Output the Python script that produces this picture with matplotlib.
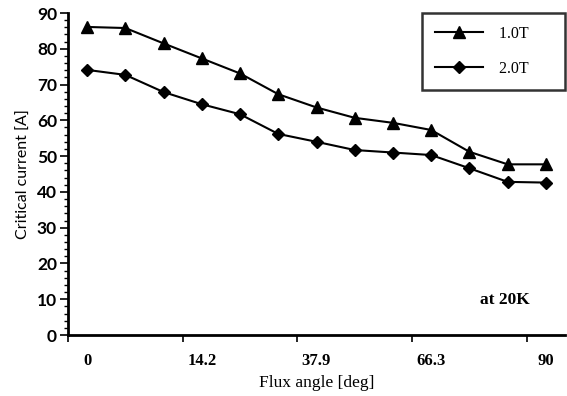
import matplotlib
matplotlib.use('Agg')
import matplotlib.pyplot as plt
from matplotlib.ticker import MultipleLocator, FixedLocator

# flux angle categories (13 points, only every 3rd labelled)
angle_labels = ['0', '14.2', '37.9', '66.3', '90']
n_points = 13

ic_10T = [86.1, 85.8, 81.5, 77.3, 73.1, 67.3, 63.6, 60.7, 59.3, 57.3, 51.2, 47.7, 47.7]
ic_20T = [74.1, 72.7, 67.9, 64.5, 61.7, 56.2, 54.0, 51.7, 51.0, 50.3, 46.6, 42.8, 42.6]

serif = 'Liberation Serif'
sans = 'Lato'

fig = plt.figure(figsize=(5.67, 3.96), dpi=100)
ax = fig.add_axes([68/567, 1 - 335/396, (565 - 68)/567, (335 - 13)/396])

x = list(range(n_points))
ax.plot(x, ic_10T, color='black', lw=1.5, marker='^', ms=9, label='1.0T      ')
ax.plot(x, ic_20T, color='black', lw=1.5, marker='D', ms=6.5, label='2.0T      ')

ax.set_xlim(-0.5, n_points - 0.5)
ax.set_ylim(0, 90)

# tick marks sit between categories, labels on every third category
ax.xaxis.set_major_locator(FixedLocator([-0.5, 2.5, 5.5, 8.5, 11.5]))
ax.xaxis.set_minor_locator(FixedLocator([0, 3, 6, 9, 12]))
ax.set_xticklabels([''] * 5)
ax.set_xticklabels(angle_labels, minor=True, fontfamily=serif, fontsize=12,
                   fontweight='bold')
ax.tick_params(axis='x', which='major', direction='out', length=5, width=1.2)
ax.tick_params(axis='x', which='minor', length=0, pad=13)

ax.yaxis.set_major_locator(MultipleLocator(10))
ax.yaxis.set_minor_locator(MultipleLocator(2))
ax.tick_params(axis='y', which='major', direction='out', length=6, width=1.2, pad=2)
ax.tick_params(axis='y', which='minor', direction='out', length=3, width=1)
for t in ax.get_yticklabels():
    t.set_fontfamily(sans)
    t.set_fontsize(12.5)
    t.set_fontweight('bold')

ax.spines['right'].set_visible(False)
ax.spines['top'].set_visible(False)
ax.spines['left'].set_linewidth(2)
ax.spines['bottom'].set_linewidth(2)

ax.set_xlabel('Flux angle [deg]', fontfamily=serif, fontsize=12.5, labelpad=4)
ax.set_ylabel('Critical current [A]', fontfamily=sans, fontsize=11.5, labelpad=4)

ax.text(0.88, 0.11, 'at 20K', transform=ax.transAxes, ha='center', va='center',
        fontfamily=serif, fontsize=12.5, fontweight='bold')

leg = ax.legend(loc='upper right', bbox_to_anchor=(565/567, 1 - 13/396),
                bbox_transform=fig.transFigure, borderaxespad=0, frameon=True,
                fancybox=False, edgecolor='black', handlelength=3.0,
                handletextpad=1.0, borderpad=0.8, labelspacing=1.2,
                prop={'family': serif, 'size': 11.5})
leg.get_frame().set_linewidth(1.8)

fig.savefig('out.png', dpi=100)
